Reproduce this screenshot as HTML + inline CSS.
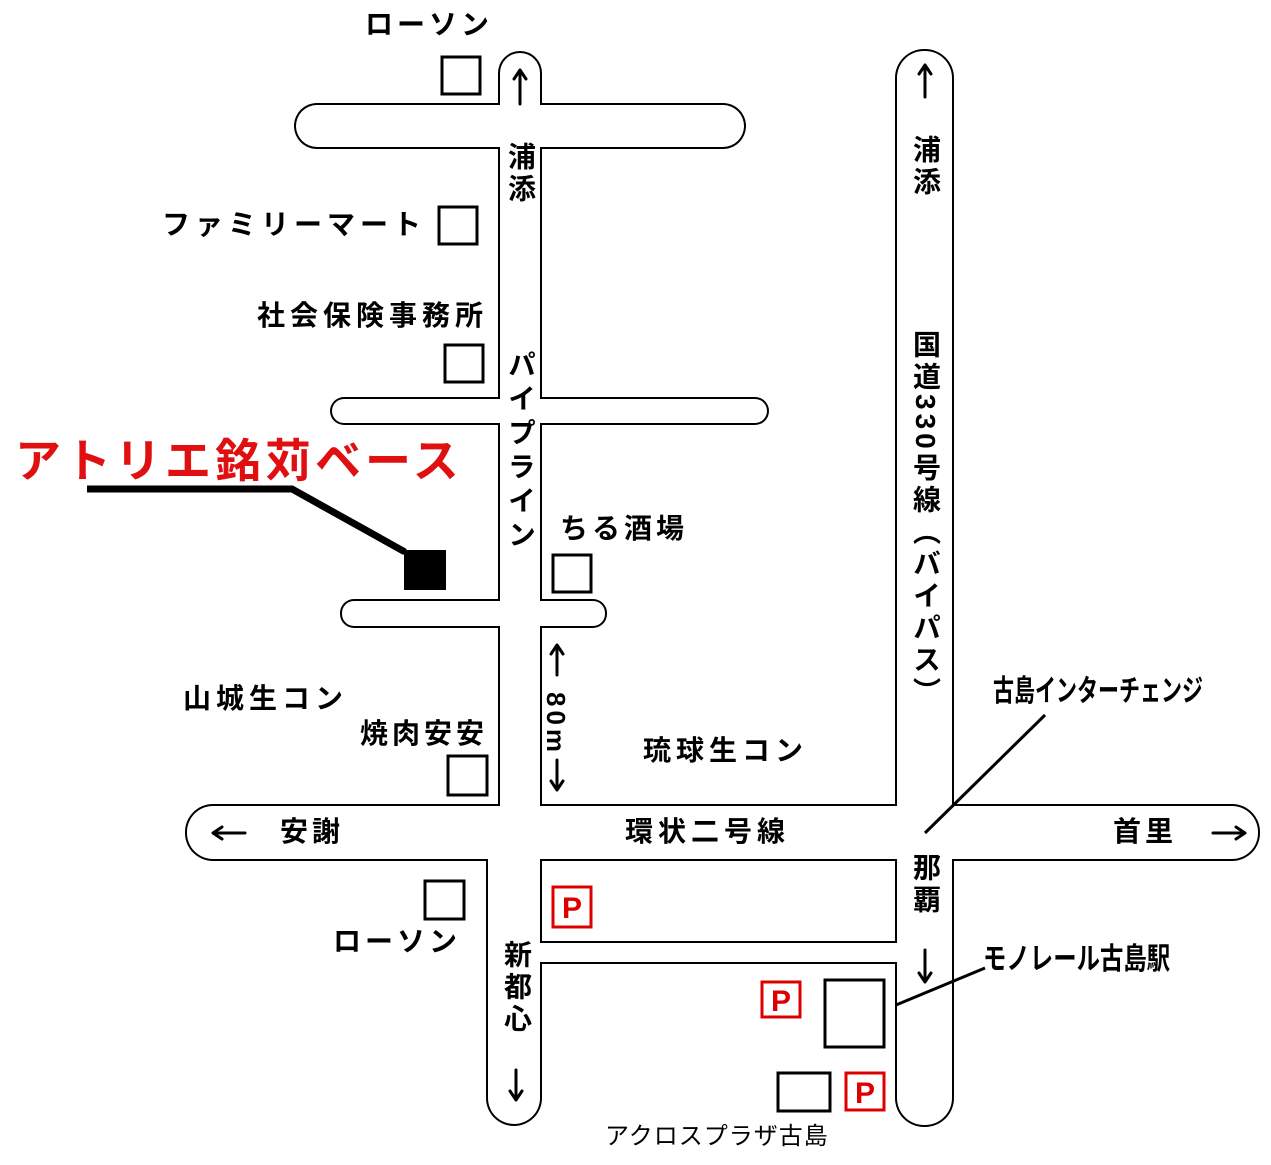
<!DOCTYPE html>
<html><head><meta charset="utf-8"><style>
body{margin:0;background:#fff;}
#c{position:relative;width:1271px;height:1165px;overflow:hidden;font-family:"Liberation Sans","Noto Sans CJK JP",sans-serif;}
.t{position:absolute;font-weight:bold;font-size:28px;color:#000;white-space:nowrap;line-height:1;letter-spacing:4px;}
.v{position:absolute;writing-mode:vertical-rl;text-orientation:mixed;font-weight:bold;font-size:28px;line-height:1;white-space:nowrap;letter-spacing:4px;}
.cond{transform-origin:0 0;letter-spacing:0;}
</style></head><body><div id="c">
<svg width="1271" height="1165" style="position:absolute;left:0;top:0">
<g fill="#000">
<rect x="498" y="51" width="44" height="800" rx="22"/>
<rect x="294" y="103" width="452" height="46" rx="23"/>
<rect x="330" y="397" width="439" height="28" rx="14"/>
<rect x="340" y="599" width="267" height="29" rx="14"/>
<rect x="185" y="804" width="1075" height="57" rx="28"/>
<rect x="895" y="49" width="59" height="1078" rx="29"/>
<rect x="486" y="804" width="56" height="322" rx="28"/>
<rect x="538" y="941" width="361" height="23"/>
</g>
<g fill="#fff">
<rect x="500" y="53" width="40" height="796" rx="20"/>
<rect x="296" y="105" width="448" height="42" rx="21"/>
<rect x="332" y="399" width="435" height="24" rx="12"/>
<rect x="342" y="601" width="263" height="25" rx="12"/>
<rect x="187" y="806" width="1071" height="53" rx="26"/>
<rect x="897" y="51" width="55" height="1074" rx="27"/>
<rect x="488" y="806" width="52" height="318" rx="26"/>
<rect x="500" y="110" width="40" height="35"/>
<rect x="500" y="401" width="40" height="20"/>
<rect x="500" y="603" width="40" height="21"/>
<rect x="500" y="780" width="40" height="60"/>
<rect x="880" y="808" width="80" height="49"/>
<rect x="488" y="820" width="52" height="60"/>
<rect x="536" y="943" width="365" height="19"/>
</g>
<polyline points="87,489 292,489 405,552" fill="none" stroke="#000" stroke-width="7"/>
<rect x="404" y="550" width="42" height="40" fill="#000"/>
<g fill="none" stroke="#000" stroke-width="3">
<rect x="442" y="57" width="38" height="37"/>
<rect x="439" y="207" width="38" height="37"/>
<rect x="445" y="345" width="38" height="37"/>
<rect x="553" y="555" width="38" height="37"/>
<rect x="448" y="756" width="39" height="39"/>
<rect x="425" y="881" width="39" height="38"/>
<rect x="825" y="980" width="59" height="67"/>
<rect x="778" y="1073" width="52" height="38"/>
</g>
<g fill="none" stroke="#000" stroke-width="3" stroke-linecap="round" stroke-linejoin="round">
<path d="M520,104 V70 M514,79 L520,70 L526,79"/>
<path d="M925,97 V65 M919,74 L925,65 L931,74"/>
<path d="M925,950 V982 M919,973 L925,982 L931,973"/>
<path d="M516,1070 V1100 M510,1091 L516,1100 L522,1091"/>
<path d="M557,675 V645 M551,654 L557,645 L563,654"/>
<path d="M557,760 V790 M551,781 L557,790 L563,781"/>
<path d="M245,833 H213 M222,827 L213,833 L222,839"/>
<path d="M1213,833 H1245 M1236,827 L1245,833 L1236,839"/>
</g>
<g fill="none" stroke="#d00" stroke-width="3">
<rect x="553" y="887" width="38" height="40"/>
<rect x="762" y="982" width="38" height="35"/>
<rect x="846" y="1073" width="38" height="37"/>
</g>
<g fill="#d00" font-family="Liberation Sans" font-weight="bold" font-size="30" text-anchor="middle">
<text x="572" y="918">P</text><text x="781" y="1011">P</text><text x="865" y="1103">P</text>
</g>
<line x1="925" y1="833" x2="1045" y2="715" stroke="#000" stroke-width="3"/>
<line x1="896" y1="1005" x2="985" y2="968" stroke="#000" stroke-width="3"/>
</svg>
<div class="t" style="left:15px;top:438px;font-size:46px;color:#e01010;letter-spacing:4px;">アトリエ銘苅ベース</div>
<div class="t" style="left:365px;top:11px;">ローソン</div>
<div class="t" style="left:162px;top:211px;letter-spacing:5px;">ファミリーマート</div>
<div class="t" style="left:257px;top:302px;letter-spacing:5px;">社会保険事務所</div>
<div class="t" style="left:560px;top:515px;">ちる酒場</div>
<div class="t" style="left:183px;top:685px;letter-spacing:5px;">山城生コン</div>
<div class="t" style="left:360px;top:720px;">焼肉安安</div>
<div class="t" style="left:643px;top:737px;letter-spacing:5px;">琉球生コン</div>
<div class="t" style="left:280px;top:818px;">安謝</div>
<div class="t" style="left:625px;top:818px;letter-spacing:5px;">環状二号線</div>
<div class="t" style="left:1113px;top:818px;">首里</div>
<div class="t" style="left:333px;top:928px;">ローソン</div>
<div class="t cond" style="left:983px;top:945px;transform:scaleX(0.78);font-size:30px;">モノレール古島駅</div>
<div class="t cond" style="left:993px;top:677px;transform:scaleX(0.7);font-size:30px;">古島インターチェンジ</div>
<div class="t" style="left:605px;top:1125px;font-weight:normal;font-size:24px;letter-spacing:1px;">アクロスプラザ古島</div>
<div class="v" style="left:506px;top:142px;">浦添</div>
<div class="v" style="left:506px;top:350px;letter-spacing:6px;">パイプライン</div>
<div class="v" style="left:502px;top:940px;">新都心</div>
<div class="v" style="left:911px;top:135px;">浦添</div>
<div class="v" style="left:911px;top:330px;letter-spacing:4px;">国道330号線（バイパス）</div>
<div class="v" style="left:911px;top:853px;">那覇</div>
<div class="v" style="left:543px;top:692px;font-size:26px;">80m</div>
</div></body></html>
